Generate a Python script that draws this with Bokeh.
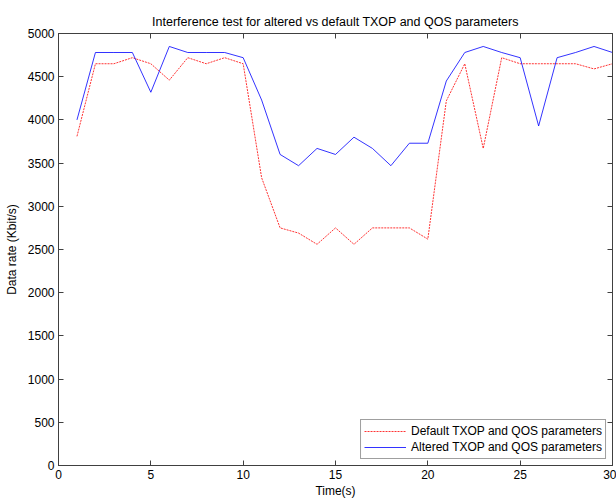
from bokeh.plotting import figure
from bokeh.models import (LinearAxis, Range1d, Legend, LegendItem, SingleIntervalTicker,
                          CustomLabelingPolicy)
from bokeh.embed import file_html
from bokeh.resources import INLINE

# Measured throughput per second for the two parameter sets
time_s = list(range(1, 31))
default_rate = [3810, 4650, 4650, 4720, 4650, 4460, 4720, 4650, 4720, 4650,
                3330, 2750, 2690, 2560, 2750, 2560, 2750, 2750, 2750, 2620,
                4220, 4650, 3670, 4720, 4650, 4650, 4650, 4650, 4590, 4650]
altered_rate = [4000, 4780, 4780, 4780, 4320, 4850, 4780, 4780, 4780, 4720,
                4230, 3600, 3470, 3670, 3600, 3800, 3670, 3470, 3730, 3730,
                4450, 4780, 4850, 4780, 4720, 3930, 4720, 4780, 4850, 4780]

series_labels = ["Default TXOP and QOS parameters", "Altered TXOP and QOS parameters"]
chart_title = "Interference test for altered vs default TXOP and QOS parameters"
x_label = "Time(s)"
y_label = "Data rate (Kbit/s)"

FONT = "Liberation Sans"
AXIS_COLOR = "#404040"

p = figure(width=616, height=500, output_backend="svg", toolbar_location=None,
           x_range=Range1d(0, 30), y_range=Range1d(0, 5000),
           min_border_left=58, min_border_right=4, min_border_top=33, min_border_bottom=33,
           title=chart_title)

p.title.align = "center"
p.title.text_font = FONT
p.title.text_font_size = "12.5px"
p.title.text_font_style = "normal"
p.title.text_color = "black"

p.xgrid.visible = False
p.ygrid.visible = False
p.outline_line_color = AXIS_COLOR
p.outline_line_alpha = 1.0
p.background_fill_color = "white"
p.border_fill_color = "white"

# Drops every tick label (used for the mirrored top/right axes)
no_labels = CustomLabelingPolicy(code="""
    const all = [...indices]
    for (const i of all)
        indices.unset(i)
    return indices
""")


def style_axis(ax, show_labels=True):
    ax.major_tick_in = 5
    ax.major_tick_out = 0
    ax.minor_tick_line_color = None
    ax.axis_line_color = AXIS_COLOR
    ax.major_tick_line_color = AXIS_COLOR
    ax.major_label_text_font = FONT
    ax.major_label_text_color = "black"
    if show_labels:
        ax.major_label_text_font_size = "12px"
        ax.major_label_standoff = 4
    else:
        ax.major_label_text_font_size = "0px"
        ax.major_label_policy = no_labels
        ax.major_label_standoff = 0


xaxis = p.xaxis[0]
xaxis.ticker = SingleIntervalTicker(interval=5, num_minor_ticks=0)
style_axis(xaxis)
xaxis.axis_label = x_label
xaxis.axis_label_text_font = FONT
xaxis.axis_label_text_font_size = "12px"
xaxis.axis_label_text_font_style = "normal"
xaxis.axis_label_text_color = "black"
xaxis.axis_label_standoff = 2

yaxis = p.yaxis[0]
yaxis.ticker = SingleIntervalTicker(interval=500, num_minor_ticks=0)
style_axis(yaxis)
yaxis.axis_label = y_label
yaxis.axis_label_text_font = FONT
yaxis.axis_label_text_font_size = "12px"
yaxis.axis_label_text_font_style = "normal"
yaxis.axis_label_text_color = "black"
yaxis.axis_label_standoff = 6

# Mirrored tick marks on the top and right edges of the box
top_axis = LinearAxis(ticker=SingleIntervalTicker(interval=5, num_minor_ticks=0))
style_axis(top_axis, show_labels=False)
p.add_layout(top_axis, "above")
right_axis = LinearAxis(ticker=SingleIntervalTicker(interval=500, num_minor_ticks=0))
style_axis(right_axis, show_labels=False)
p.add_layout(right_axis, "right")

r_default = p.line(time_s, default_rate, line_color="#ff0000", line_width=1,
                   line_alpha=0.8, line_dash="2 1")
r_altered = p.line(time_s, altered_rate, line_color="#0000ff", line_width=1,
                   line_alpha=0.8)

legend = Legend(items=[LegendItem(label=series_labels[0], renderers=[r_default]),
                       LegendItem(label=series_labels[1], renderers=[r_altered])],
                location="bottom_right")
legend.margin = 6
legend.padding = 3
legend.spacing = 0
legend.glyph_width = 42
legend.glyph_height = 16
legend.label_height = 16
legend.label_standoff = 5
legend.label_text_font = FONT
legend.label_text_font_size = "12px"
legend.label_text_color = "black"
legend.border_line_color = AXIS_COLOR
legend.background_fill_alpha = 1.0
p.add_layout(legend, "center")

open("out.html", "w").write(file_html(p, INLINE))
